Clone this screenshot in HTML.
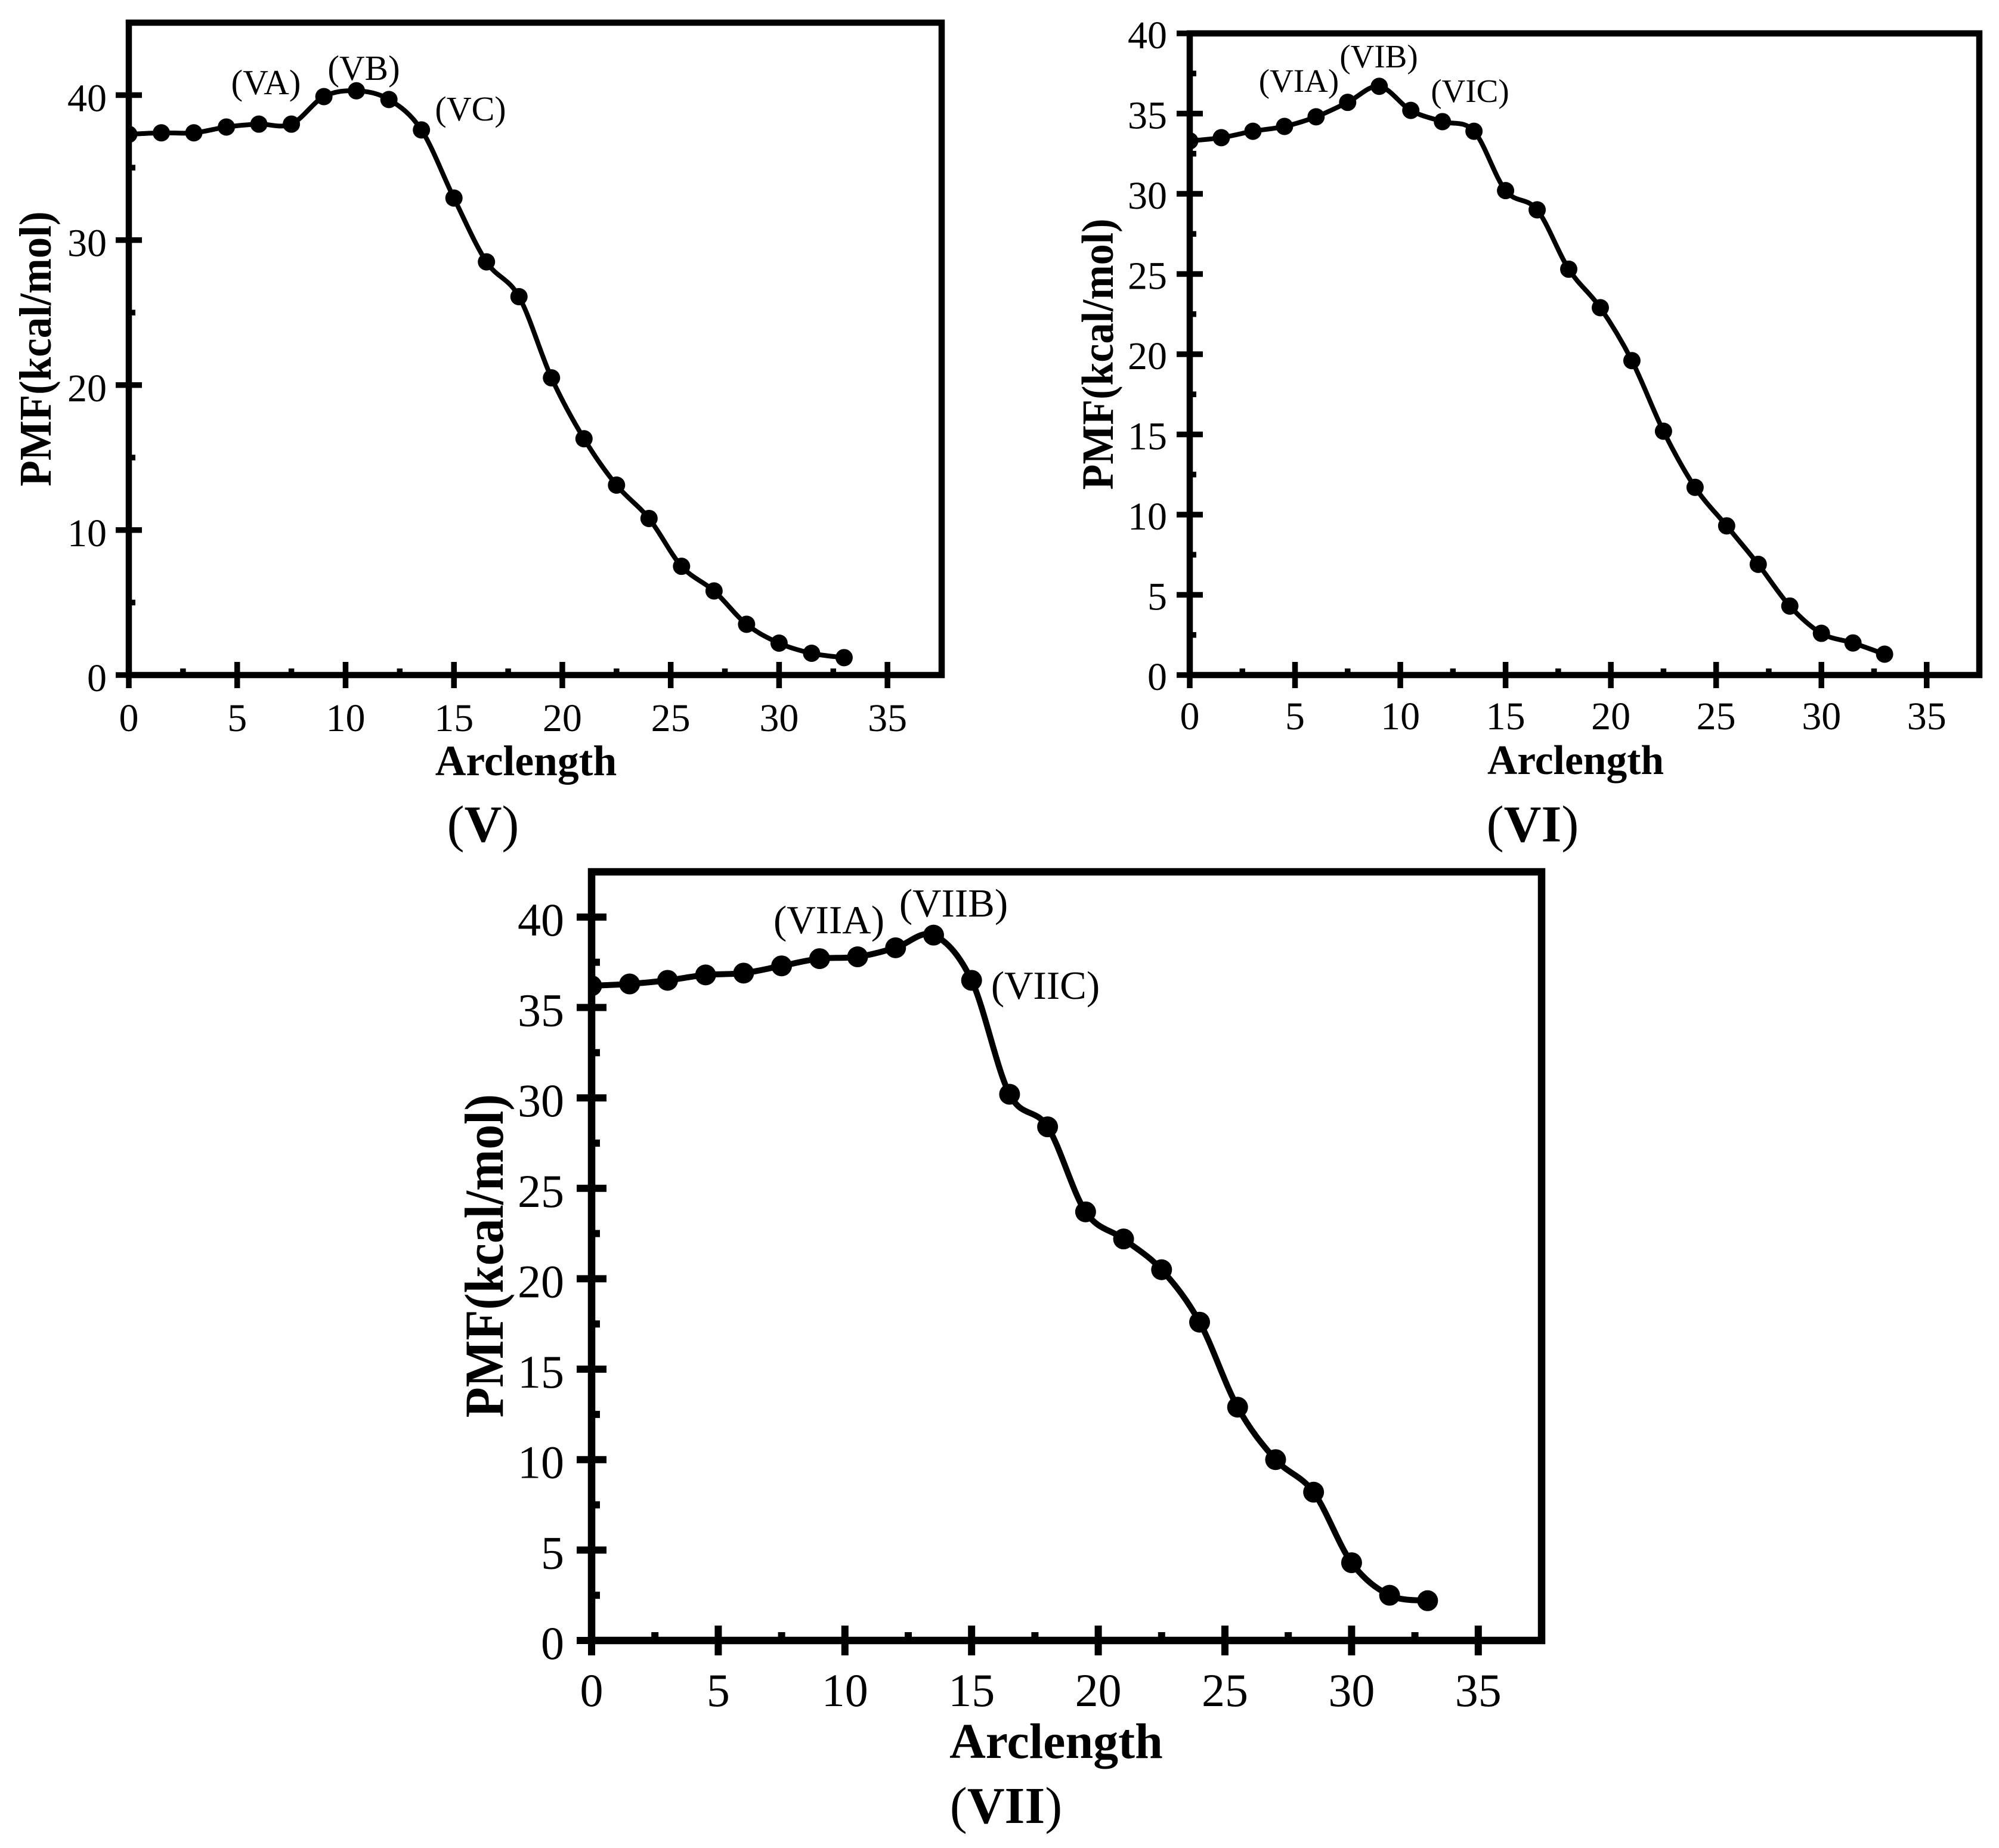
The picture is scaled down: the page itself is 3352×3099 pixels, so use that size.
<!DOCTYPE html>
<html lang="en">
<head>
<meta charset="utf-8">
<title>PMF vs Arclength panels V, VI, VII</title>
<style>
html,body{margin:0;padding:0;background:#fff;}
svg{display:block;}
text{font-family:"Liberation Serif",serif;fill:#000;}
.b{font-weight:bold;}
</style>
</head>
<body>
<svg id="figure" xmlns="http://www.w3.org/2000/svg" width="3352" height="3099" viewBox="0 0 3352 3099">
  <rect width="3352" height="3099" fill="#fff"/>
  <g id="panel-v"></g>
  <g id="panel-vi"></g>
  <g id="panel-vii"></g>

  <text class="b" x="882" y="1300" font-size="71.5" text-anchor="middle">Arclength</text>
  <text class="b" transform="translate(85 585) rotate(-90) scale(1 1.08)" font-size="71" text-anchor="middle">PMF(kcal/mol)</text>
  <text x="810" y="1411" font-size="87" text-anchor="middle">(<tspan class="b">V</tspan>)</text>
  <text x="446" y="158" font-size="59" text-anchor="middle">(VA)</text>
  <text x="610" y="134" font-size="59" text-anchor="middle">(VB)</text>
  <text x="789" y="202" font-size="58" text-anchor="middle">(VC)</text>

  <text class="b" x="2642" y="1298" font-size="69.5" text-anchor="middle">Arclength</text>
  <text class="b" transform="translate(1866 594) rotate(-90) scale(1 1.08)" font-size="70" text-anchor="middle">PMF(kcal/mol)</text>
  <text x="2570" y="1411" font-size="87" text-anchor="middle">(<tspan class="b">VI</tspan>)</text>
  <text x="2178" y="154" font-size="55" text-anchor="middle">(VIA)</text>
  <text x="2312" y="113" font-size="55" text-anchor="middle">(VIB)</text>
  <text x="2465" y="171" font-size="55" text-anchor="middle">(VIC)</text>

  <text class="b" x="1771" y="2948" font-size="84" text-anchor="middle">Arclength</text>
  <text class="b" transform="translate(843 2106) rotate(-90) scale(1 1.1)" font-size="83.5" text-anchor="middle">PMF(kcal/mol)</text>
  <text x="1687" y="3057" font-size="87" text-anchor="middle">(<tspan class="b">VII</tspan>)</text>
  <text x="1390" y="1565" font-size="67" text-anchor="middle">(VIIA)</text>
  <text x="1599" y="1537" font-size="67" text-anchor="middle">(VIIB)</text>
  <text x="1753" y="1675" font-size="67" text-anchor="middle">(VIIC)</text>
</svg>
<script>
const arcLength = [0,1.5,3,4.5,6,7.5,9,10.5,12,13.5,15,16.5,18,19.5,21,22.5,24,25.5,27,28.5,30,31.5,33];
const pmfV = [37.3,37.4,37.4,37.8,38.0,38.0,39.9,40.3,39.7,37.6,32.9,28.5,26.1,20.5,16.3,13.1,10.8,7.5,5.8,3.5,2.2,1.5,1.2];
const pmfVI = [33.3,33.5,33.9,34.2,34.8,35.7,36.7,35.2,34.5,33.9,30.2,29.0,25.3,22.9,19.6,15.2,11.7,9.3,6.9,4.3,2.6,2.0,1.3];
const pmfVII = [36.2,36.3,36.5,36.8,36.9,37.3,37.7,37.8,38.3,39.0,36.5,30.2,28.4,23.7,22.2,20.5,17.6,12.9,10.0,8.2,4.3,2.5,2.2];
const xTickLabels = [0,5,10,15,20,25,30,35];
const xMinorTicks = [2.5,7.5,12.5,17.5,22.5,27.5,32.5];
const yTickLabelsV = [0,10,20,30,40];
const yMinorTicksV = [5,15,25,35];
const yTickLabelsVI = [0,5,10,15,20,25,30,35,40];
const yMinorTicksVI = [2.5,7.5,12.5,17.5,22.5,27.5,32.5,37.5];
const yTickLabelsVII = [0,5,10,15,20,25,30,35,40];
const yMinorTicksVII = [2.5,7.5,12.5,17.5,22.5,27.5,32.5,37.5];

const NS = 'http://www.w3.org/2000/svg';

function make(parent, tag, attrs) {
  const el = document.createElementNS(NS, tag);
  for (const k in attrs) el.setAttribute(k, attrs[k]);
  parent.appendChild(el);
  return el;
}

function drawPanel(cfg) {
  const g = document.getElementById(cfg.id);
  const xOf = v => cfg.left + (v / cfg.xMax) * (cfg.right - cfg.left);
  const yOf = v => cfg.bottom - (v / cfg.yMax) * (cfg.bottom - cfg.top);

  const clipId = cfg.id + '-clip';
  const defs = make(g, 'defs', {});
  const clip = make(defs, 'clipPath', {id: clipId});
  make(clip, 'rect', {x: cfg.left, y: cfg.top, width: cfg.right - cfg.left, height: cfg.bottom - cfg.top});

  const frame = make(g, 'rect', {x: cfg.left, y: cfg.top, width: cfg.right - cfg.left, height: cfg.bottom - cfg.top, fill: 'none', stroke: '#000', 'stroke-width': cfg.frame});
  
  

  xTickLabels.forEach(t => {
    const tick = make(g, 'line', {x1: xOf(t), x2: xOf(t), y1: cfg.bottom - cfg.major, y2: cfg.bottom + cfg.major, stroke: '#000', 'stroke-width': cfg.tickW});
    
    
    const label = make(g, 'text', {x: xOf(t), y: cfg.bottom + cfg.xLabelDy, 'font-size': cfg.tickFont, 'text-anchor': 'middle'});
    label.textContent = t;
    
    
  });
  xMinorTicks.forEach(t => {
    const tick = make(g, 'line', {x1: xOf(t), x2: xOf(t), y1: cfg.bottom, y2: cfg.bottom - cfg.minor, stroke: '#000', 'stroke-width': cfg.tickW});
    
    
  });
  cfg.yTicks.forEach(t => {
    const tick = make(g, 'line', {x1: cfg.left - cfg.major, x2: cfg.left + cfg.major, y1: yOf(t), y2: yOf(t), stroke: '#000', 'stroke-width': cfg.tickW});
    
    
    const label = make(g, 'text', {x: cfg.left + cfg.yLabelDx, y: yOf(t) + cfg.yLabelDy, 'font-size': cfg.tickFont, 'text-anchor': 'end'});
    label.textContent = t;
    
    
  });
  cfg.yMinor.forEach(t => {
    const tick = make(g, 'line', {x1: cfg.left, x2: cfg.left + cfg.minor, y1: yOf(t), y2: yOf(t), stroke: '#000', 'stroke-width': cfg.tickW});
    
    
  });

  const pts = arcLength.map((x, i) => [xOf(x), yOf(cfg.values[i])]);
  let d = 'M' + pts[0][0] + ' ' + pts[0][1];
  for (let i = 0; i < pts.length - 1; i++) {
    const p0 = pts[Math.max(i - 1, 0)], p1 = pts[i], p2 = pts[i + 1], p3 = pts[Math.min(i + 2, pts.length - 1)];
    const c1x = p1[0] + (p2[0] - p0[0]) / 6, c1y = p1[1] + (p2[1] - p0[1]) / 6;
    const c2x = p2[0] - (p3[0] - p1[0]) / 6, c2y = p2[1] - (p3[1] - p1[1]) / 6;
    d += ' C' + c1x + ' ' + c1y + ' ' + c2x + ' ' + c2y + ' ' + p2[0] + ' ' + p2[1];
  }
  const series = make(g, 'g', {'clip-path': 'url(#' + clipId + ')'});
  
  
  const line = make(series, 'path', {d: d, fill: 'none', stroke: '#000', 'stroke-width': cfg.lineW, 'stroke-linejoin': 'round'});
  
  
  pts.forEach(p => {
    const dot = make(series, 'circle', {cx: p[0], cy: p[1], r: cfg.r, fill: '#000'});
    
    
  });
}

drawPanel({id:'panel-v', left:216, right:1579, top:38, bottom:1132, xMax:37.5, yMax:45, values:pmfV, yTicks:yTickLabelsV, yMinor:yMinorTicksV,
  frame:10.5, tickW:9.5, major:22, minor:11, lineW:8, r:14.5, tickFont:66, xLabelDy:94, yLabelDx:-37, yLabelDy:27});
drawPanel({id:'panel-vi', left:1995, right:3319, top:56, bottom:1132, xMax:37.5, yMax:40, values:pmfVI, yTicks:yTickLabelsVI, yMinor:yMinorTicksVI,
  frame:10.5, tickW:9.5, major:22, minor:11, lineW:8, r:14.5, tickFont:66, xLabelDy:91, yLabelDx:-38, yLabelDy:25});
drawPanel({id:'panel-vii', left:992, right:2585, top:1462, bottom:2751, xMax:37.5, yMax:42.5, values:pmfVII, yTicks:yTickLabelsVII, yMinor:yMinorTicksVII,
  frame:12.5, tickW:12, major:25, minor:14, lineW:10, r:17.5, tickFont:78, xLabelDy:110, yLabelDx:-46, yLabelDy:31});
</script>
</body>
</html>
